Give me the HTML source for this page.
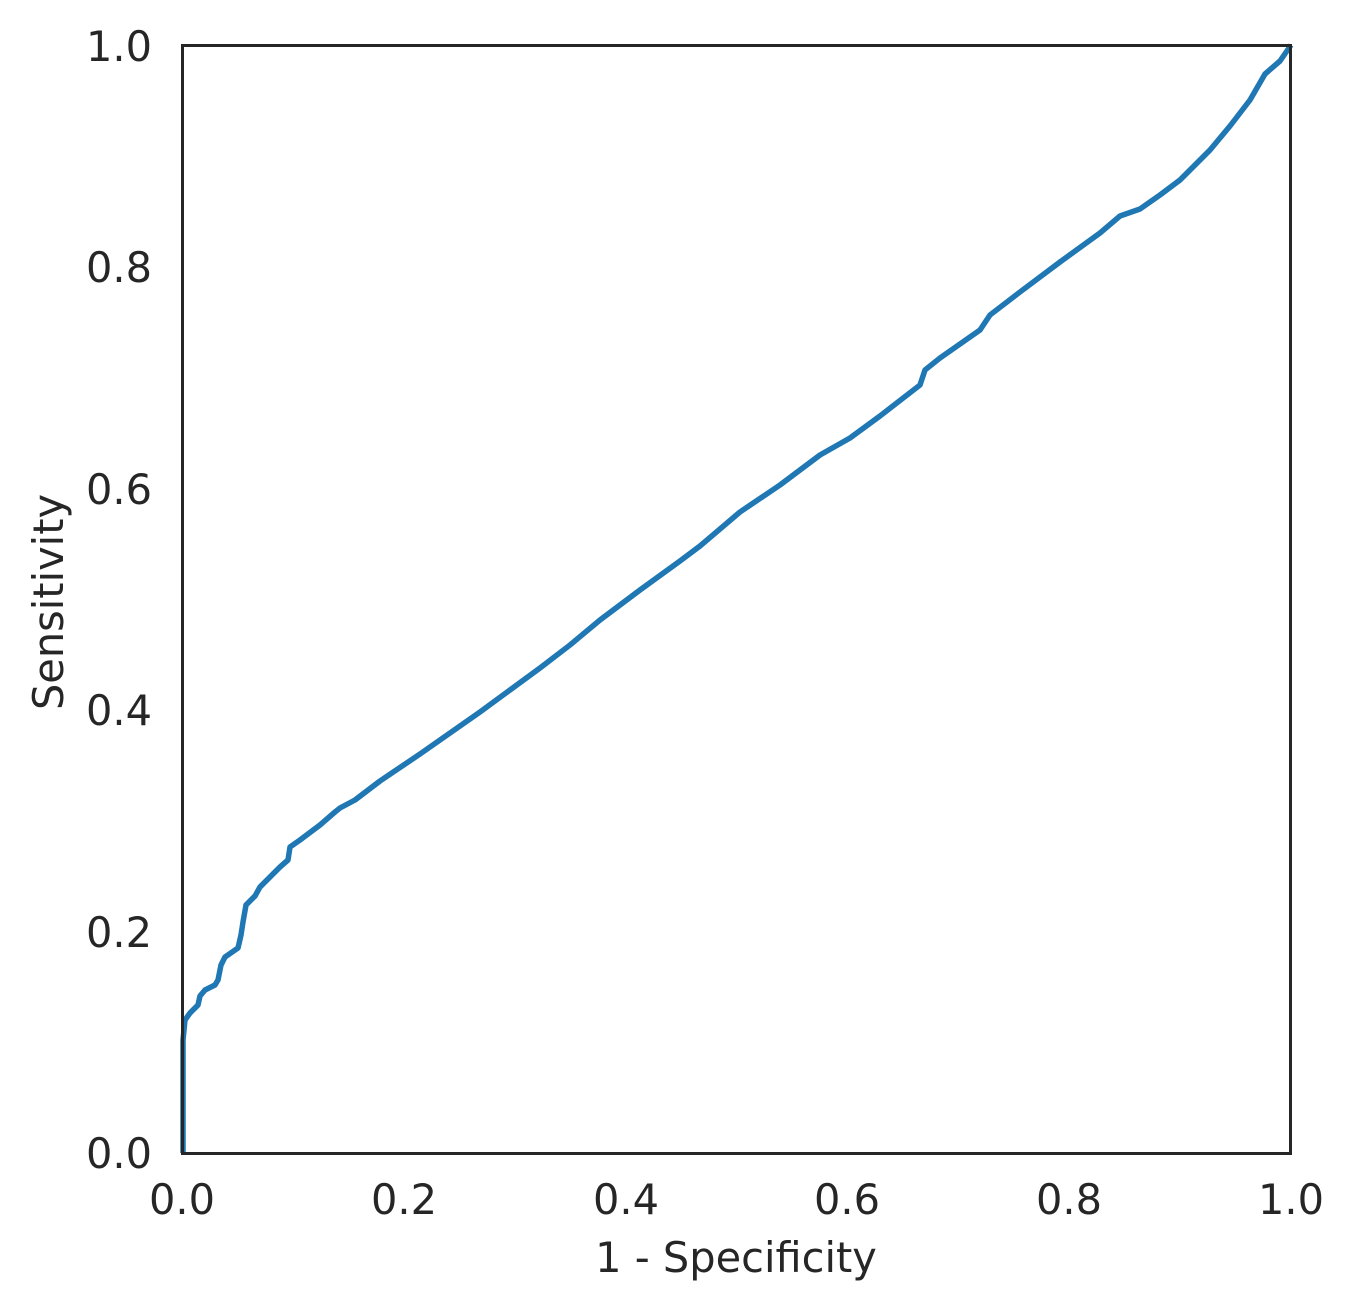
<!DOCTYPE html>
<html><head><meta charset="utf-8"><style>
html,body{margin:0;padding:0;background:#fff;}
svg text{font-family:"DejaVu Sans","Liberation Sans",sans-serif;fill:#262626;font-size:41.5px;}
</style></head><body>
<svg width="1354" height="1310" viewBox="0 0 1354 1310" xmlns="http://www.w3.org/2000/svg">
<rect width="1354" height="1310" fill="#fff"/>
<polyline fill="none" stroke="#1f77b4" stroke-width="5.5" stroke-linejoin="round" points="183,1153 183,1040 185,1020 190,1013 198,1005 200,996 205,990 215,985 218,980 221,965 225,957 238,948 241,935 243,922 246,905 255,896 260,887 270,877 280,867 288,860 290,847 300,840 320,825 335,812 340,808 355,800 380,781 420,754 450,733 480,712 510,690 540,668 570,645 600,620 640,590 680,561 700,546 740,512 780,485 820,455 850,438 880,416 920,385 925,370 940,358 980,330 990,315 1020,292 1060,262 1100,233 1120,216 1140,209 1160,195 1180,180 1210,150 1230,126 1250,100 1265,74 1280,61 1291,45"/>
<rect x="182.5" y="45.5" width="1108" height="1108" fill="none" stroke="#262626" stroke-width="3"/>
<g text-anchor="end">
<text x="152" y="1168">0.0</text>
<text x="152" y="947">0.2</text>
<text x="152" y="725">0.4</text>
<text x="152" y="504">0.6</text>
<text x="152" y="282">0.8</text>
<text x="152" y="61">1.0</text>
</g>
<g text-anchor="middle">
<text x="182" y="1214">0.0</text>
<text x="404" y="1214">0.2</text>
<text x="626" y="1214">0.4</text>
<text x="847" y="1214">0.6</text>
<text x="1069" y="1214">0.8</text>
<text x="1291" y="1214">1.0</text>
<text x="736" y="1272">1 - Specificity</text>
<text transform="translate(63,602) rotate(-90)">Sensitivity</text>
</g>
</svg>
</body></html>
